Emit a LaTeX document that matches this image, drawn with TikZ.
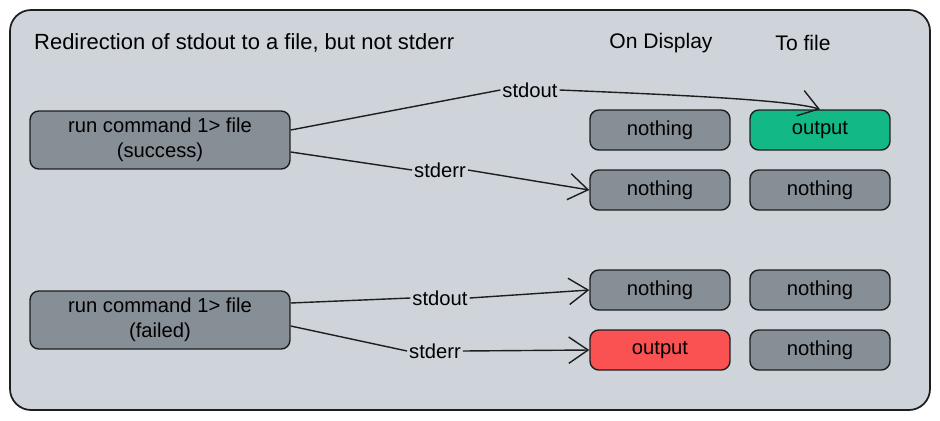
\documentclass[tikz,border=0pt]{standalone}
\usepackage{fontspec}
\setmainfont{Liberation Sans}
\usetikzlibrary{arrows.meta}
\definecolor{panelgray}{RGB}{206,212,218}
\definecolor{boxgray}{RGB}{134,142,150}
\definecolor{okgreen}{RGB}{18,184,134}
\definecolor{errred}{RGB}{250,82,82}
\definecolor{inkline}{RGB}{30,30,30}
\tikzset{
	cell/.style={draw=inkline, line width=0.8pt, rounded corners=5pt, fill=boxgray, minimum width=2.8cm, minimum height=0.8cm, font=\fontsize{11.5}{14}\selectfont},
	cmdbox/.style={cell, minimum width=5.2cm, minimum height=1.16cm, align=center},
	stream/.style={fill=panelgray, inner sep=1pt, font=\fontsize{11.5}{14}\selectfont},
	flow/.style={draw=inkline, line width=0.8pt},
	tip/.style={-{Straight Barb[length=11pt,width=15pt]}}
}

\begin{document}
\begin{tikzpicture}[x=0.02cm, y=-0.02cm]
		%%%%% START %%%%%
		\useasboundingbox (0, 0) rectangle (940, 420);
		\draw[fill=panelgray, draw=inkline, line width=1pt, rounded corners=12pt] (10, 10) rectangle (930, 410);
		
		\node[anchor=west, font=\fontsize{12.5}{15}\selectfont] (title) at (28, 43) {Redirection of stdout to a file, but not stderr};
		\node[font=\fontsize{12}{14}\selectfont] (colDisplay) at (661, 43) {On Display};
		\node[font=\fontsize{12}{14}\selectfont] (colFile) at (803, 43) {To file};
		
		\node[cmdbox] (runOk) at (160, 140) {run command 1> file\\(success)};
		\node[cmdbox] (runFail) at (160, 320) {run command 1> file\\(failed)};
		
		\node[cell] (dispOut1) at (660, 130) {nothing};
		\node[cell, fill=okgreen] (fileOut1) at (820, 130) {output};
		\node[cell] (dispErr1) at (660, 190) {nothing};
		\node[cell] (fileErr1) at (820, 190) {nothing};
		
		\node[cell] (dispOut2) at (660, 290) {nothing};
		\node[cell] (fileOut2) at (820, 290) {nothing};
		\node[cell, fill=errred] (dispErr2) at (660, 350) {output};
		\node[cell] (fileErr2) at (820, 350) {nothing};
		
		\node[stream] (outLabel1) at (530, 90) {stdout};
		\node[stream] (errLabel1) at (440, 170) {stderr};
		\node[stream] (outLabel2) at (440, 298) {stdout};
		\node[stream] (errLabel2) at (435, 351) {stderr};
		
		\draw[flow] (runOk.east |- 0, 130) -- (outLabel1.west);
		\draw[flow, tip] (outLabel1.east) .. controls (680, 95) and (790, 100) .. (fileOut1.north);
		\draw[flow] (runOk.east |- 0, 152) -- (errLabel1.west);
		\draw[flow, tip] (errLabel1.east) -- (dispErr1.west);
		
		\draw[flow] (runFail.east |- 0, 303) -- (outLabel2.west);
		\draw[flow, tip] (outLabel2.east) -- (dispOut2.west);
		\draw[flow] (runFail.east |- 0, 326) -- (errLabel2.west);
		\draw[flow, tip] (errLabel2.east) -- (dispErr2.west);
		%%%%% END %%%%%
\end{tikzpicture}
\end{document}
